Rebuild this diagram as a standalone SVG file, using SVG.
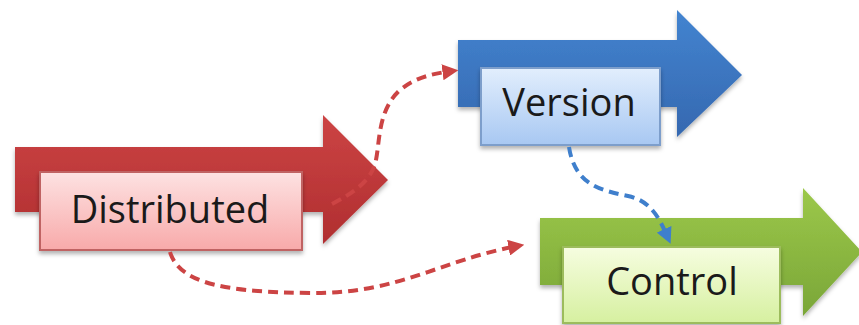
<svg xmlns="http://www.w3.org/2000/svg" width="859" height="325" viewBox="0 0 859 325">
<style>
.lbl{font-family:"Open Sans","Liberation Sans",sans-serif;font-size:38px;fill:#1a1a1a;text-anchor:middle}
.conn{fill:none;stroke-width:4;stroke-dasharray:10 6}
</style>
<defs>
<linearGradient id="gRed" x1="0" y1="0" x2="0" y2="1"><stop offset="0" stop-color="#cc4444"/><stop offset="1" stop-color="#b02e30"/></linearGradient>
<linearGradient id="gBlue" x1="0" y1="0" x2="0" y2="1"><stop offset="0" stop-color="#4384d0"/><stop offset="1" stop-color="#3568b0"/></linearGradient>
<linearGradient id="gGreen" x1="0" y1="0" x2="0" y2="1"><stop offset="0" stop-color="#9cc84a"/><stop offset="1" stop-color="#7aa638"/></linearGradient>
<linearGradient id="bRed" x1="0" y1="0" x2="0" y2="1"><stop offset="0" stop-color="#fde2e2"/><stop offset="1" stop-color="#f8aaaa"/></linearGradient>
<linearGradient id="bBlue" x1="0" y1="0" x2="0" y2="1"><stop offset="0" stop-color="#e2eefd"/><stop offset="1" stop-color="#a8c8f2"/></linearGradient>
<linearGradient id="bGreen" x1="0" y1="0" x2="0" y2="1"><stop offset="0" stop-color="#f6fde0"/><stop offset="1" stop-color="#d6f0a0"/></linearGradient>
<filter id="sh" x="-10%" y="-10%" width="120%" height="130%"><feDropShadow dx="0" dy="3" stdDeviation="2" flood-color="#000" flood-opacity="0.3"/></filter>
<marker id="mRed" viewBox="0 0 10 10" refX="6" refY="5" markerWidth="4" markerHeight="4" orient="auto"><path d="M0,0 L10,5 L0,10 z" fill="#cc4444"/></marker>
<marker id="mBlue" viewBox="0 0 10 10" refX="6" refY="5" markerWidth="4" markerHeight="4" orient="auto"><path d="M0,0 L10,5 L0,10 z" fill="#3f7fcc"/></marker>
</defs>
<g id="distributed">
<path d="M15,147 H323 V115 L388,180 L323,244 V212 H15 Z" fill="url(#gRed)" filter="url(#sh)"/>
<rect x="40" y="172" width="262" height="78" fill="url(#bRed)" stroke="#c06464" stroke-width="2" filter="url(#sh)"/>
<text class="lbl" x="170" y="223">Distributed</text>
</g>
<g id="version">
<path d="M458,40 H677 V10 L742,75 L677,137 V107 H458 Z" fill="url(#gBlue)" filter="url(#sh)"/>
<rect x="481" y="68" width="179" height="77" fill="url(#bBlue)" stroke="#7d9ecb" stroke-width="2" filter="url(#sh)"/>
<text class="lbl" x="569" y="116">Version</text>
</g>
<g id="control">
<path d="M540,218 H803 V188 L862,252 L803,316 V285 H540 Z" fill="url(#gGreen)" filter="url(#sh)"/>
<rect x="563" y="247" width="217" height="76" fill="url(#bGreen)" stroke="#9cbc5c" stroke-width="2" filter="url(#sh)"/>
<text class="lbl" x="672" y="295">Control</text>
</g>
<g id="connectors">
<path class="conn" d="M332,204 C355,192 372,180 376,160 C380,140 378,110 400,90 C415,78 430,74 452,71" stroke="#cc4444" marker-end="url(#mRed)"/>
<path class="conn" d="M170,252 C180,285 230,292 310,293 C400,294 440,260 518,246" stroke="#cc4444" marker-end="url(#mRed)"/>
<path class="conn" d="M569,147 C575,185 600,190 628,196 C652,201 660,220 668,238" stroke="#3f7fcc" marker-end="url(#mBlue)"/>
</g>
</svg>
